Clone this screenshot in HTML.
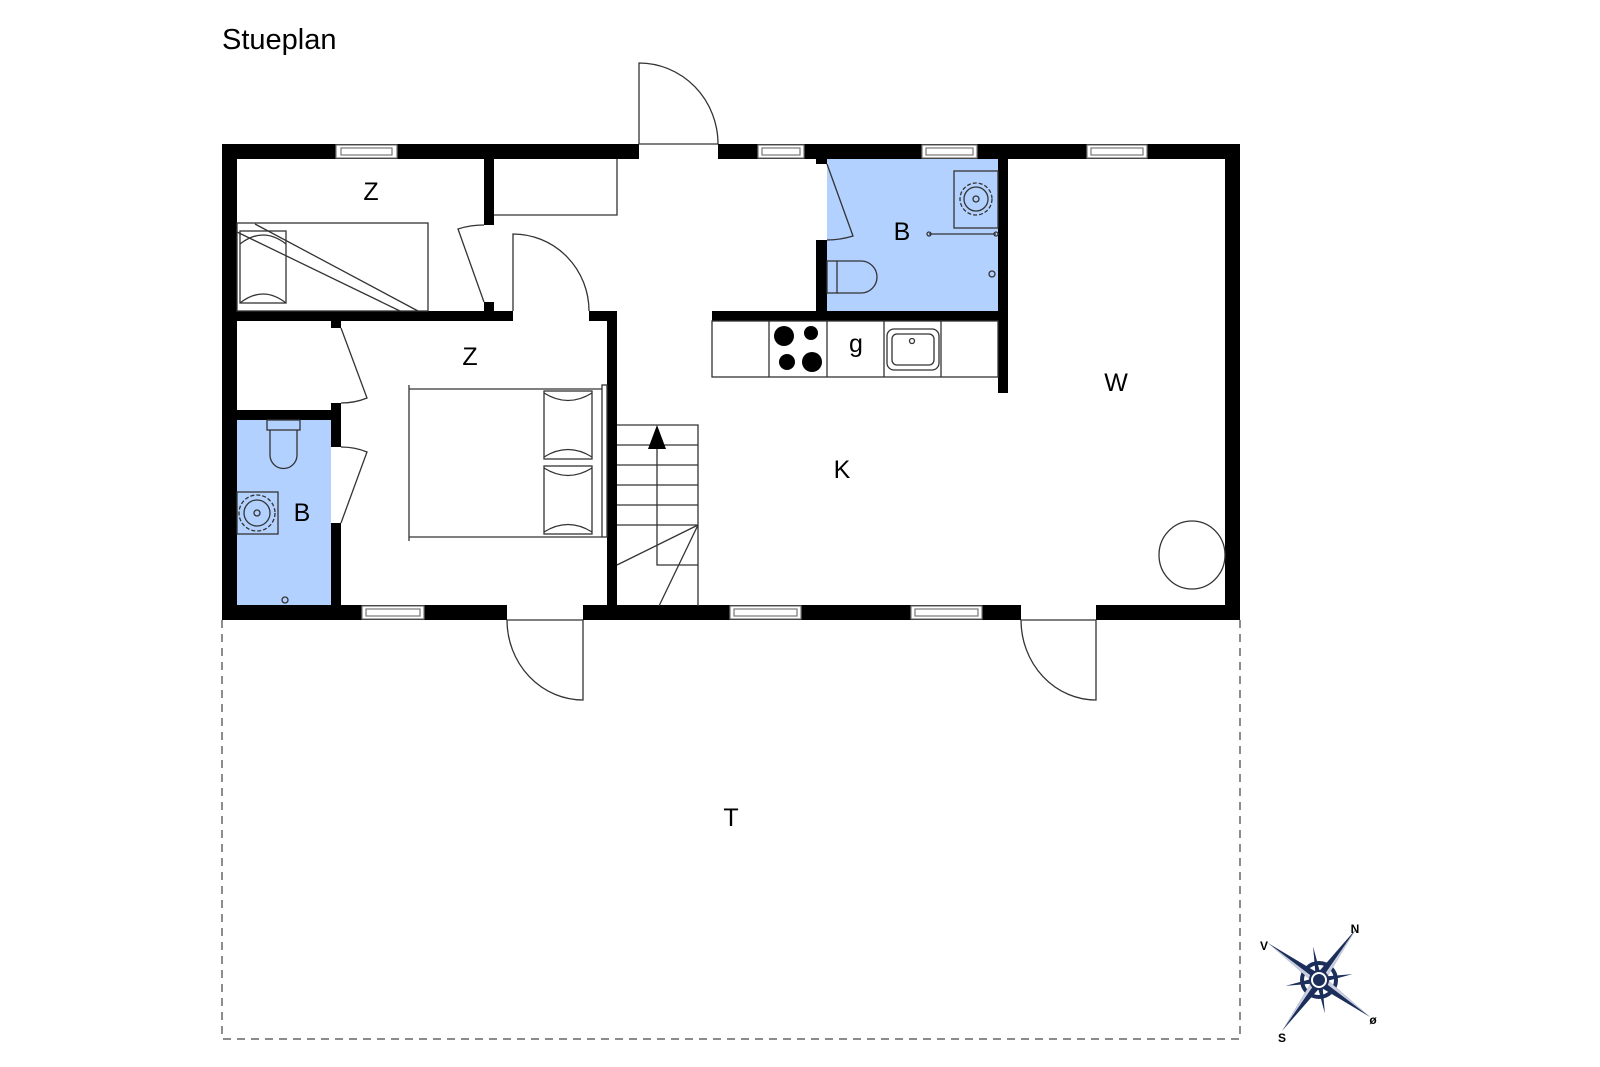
<!DOCTYPE html>
<html><head><meta charset="utf-8"><style>
html,body{margin:0;padding:0;background:#fff;}
svg{display:block;}
text{font-family:"Liberation Sans",sans-serif;fill:#000;}
</style></head><body>
<svg width="1600" height="1067" viewBox="0 0 1600 1067" xmlns="http://www.w3.org/2000/svg">
<text x="222" y="49" font-size="29">Stueplan</text>

<!-- terrace dashed -->
<path d="M222 620 V1039 H1240 V620" fill="none" stroke="#666" stroke-width="1.5" stroke-dasharray="8,6"/>

<!-- blue baths -->
<rect x="237" y="420" width="94" height="186" fill="#b3d1ff"/>
<rect x="827" y="159" width="171" height="152" fill="#b3d1ff"/>

<!-- walls -->
<g fill="#000">
<rect x="222" y="144" width="417" height="15"/>
<rect x="718" y="144" width="522" height="15"/>
<rect x="222" y="144" width="15" height="476"/>
<rect x="1225" y="144" width="15" height="476"/>
<rect x="222" y="605" width="285" height="15"/>
<rect x="583" y="605" width="438" height="15"/>
<rect x="1096" y="605" width="144" height="15"/>
<rect x="237" y="311" width="276" height="10"/>
<rect x="589" y="311" width="28" height="10"/>
<rect x="607" y="311" width="10" height="295"/>
<rect x="484" y="159" width="10" height="66"/>
<rect x="484" y="302" width="10" height="9"/>
<rect x="237" y="410" width="104" height="10"/>
<rect x="331" y="320" width="10" height="8"/>
<rect x="331" y="403" width="10" height="44"/>
<rect x="331" y="523" width="10" height="83"/>
<rect x="712" y="311" width="296" height="10"/>
<rect x="816" y="240" width="11" height="71"/>
<rect x="816" y="159" width="11" height="5"/>
<rect x="998" y="159" width="10" height="234"/>
</g>

<!-- windows -->
<g fill="#fff" stroke="#777" stroke-width="1.2">
<rect x="336" y="145" width="61" height="13"/><rect x="341" y="148" width="51" height="7"/>
<rect x="758" y="145" width="46" height="13"/><rect x="762" y="148" width="38" height="7"/>
<rect x="922" y="145" width="55" height="13"/><rect x="926" y="148" width="47" height="7"/>
<rect x="1087" y="145" width="60" height="13"/><rect x="1091" y="148" width="52" height="7"/>
<rect x="362" y="606" width="62" height="13"/><rect x="366" y="609" width="54" height="7"/>
<rect x="730" y="606" width="71" height="13"/><rect x="734" y="609" width="63" height="7"/>
<rect x="911" y="606" width="71" height="13"/><rect x="915" y="609" width="63" height="7"/>
</g>

<g fill="none" stroke="#333" stroke-width="1.3">
<path d="M639 144 H718"/>
<path d="M639 144 V63 A79 81 0 0 1 718 144"/>
<path d="M507 620 H583 M583 620 V700 A76 80 0 0 1 507 620"/>
<path d="M1021 620 H1096 M1096 620 V700 A75 80 0 0 1 1021 620"/>
<path d="M494 215 H617 V159"/>
<rect x="237" y="223" width="191" height="88"/>
<rect x="240" y="231" width="46" height="72"/>
<path d="M240 244 Q263 226 286 244 M240 303 Q263 285 286 303"/>
<path d="M255 224 L418 311 M237 232 L400 311"/>
<path d="M484 302 L458 229 Q470 225 484 225"/>
<path d="M513 311 V234 A76 77 0 0 1 589 311"/>
<path d="M341 328 L367 398 Q355 403 341 403"/>
<path d="M341 523 L367 452 Q355 447 341 447"/>
<path d="M409 385 V541 M409 389 H602 M409 537 H602"/>
<rect x="602" y="385" width="5" height="152"/>
<rect x="544" y="391" width="48" height="68"/>
<rect x="544" y="466" width="48" height="68"/>
<path d="M544 393 Q568 408 592 393 M544 457 Q568 442 592 457 M544 468 Q568 483 592 468 M544 532 Q568 517 592 532"/>
<rect x="267" y="420" width="33" height="10"/>
<path d="M270 430 V455 A13 13 0 0 0 297 455 V430"/>
<rect x="237" y="492" width="41" height="42"/>
<circle cx="257" cy="513" r="18" stroke-dasharray="4,2"/>
<circle cx="257" cy="513" r="13"/>
<circle cx="257" cy="513" r="3"/>
<circle cx="285" cy="600" r="3"/>
<path d="M827 164 L853 236 Q840 240 827 240"/>
<rect x="954" y="171" width="44" height="57"/>
<circle cx="976" cy="199" r="16" stroke-dasharray="4,2"/>
<circle cx="976" cy="199" r="12"/>
<circle cx="976" cy="199" r="3"/>
<path d="M929 234 H996"/>
<circle cx="929" cy="234" r="2"/><circle cx="996" cy="234" r="2"/>
<circle cx="992" cy="274" r="3"/>
<rect x="827" y="261" width="10" height="32"/>
<path d="M837 261 H861 A16 16 0 0 1 861 293 H837"/>
<rect x="712" y="321" width="286" height="56"/>
<path d="M769 321 V377 M827 321 V377 M884 321 V377 M941 321 V377"/>
<rect x="887" y="329" width="52" height="41" rx="7"/>
<rect x="892" y="334" width="42" height="31" rx="5"/>
<circle cx="912" cy="341" r="2.5"/>
<path d="M617 425 H698 V606 M617 445 H698 M617 465 H698 M617 485 H698 M617 505 H698 M617 525 H698"/>
<path d="M657 449 V565 H698"/>
<path d="M698 525 L617 565 M698 525 L659 606"/>
<ellipse cx="1192" cy="555" rx="33" ry="34"/>
</g>
<g fill="#000">
<polygon points="657,425 648,449 666,449"/>
<circle cx="784" cy="336" r="10"/><circle cx="811" cy="333" r="7"/>
<circle cx="787" cy="362" r="8"/><circle cx="812" cy="362" r="10"/>
</g>

<g font-size="25" text-anchor="middle">
<text x="371" y="200">Z</text>
<text x="470" y="365">Z</text>
<text x="302" y="521">B</text>
<text x="902" y="240">B</text>
<text x="856" y="352">g</text>
<text x="1116" y="391">W</text>
<text x="842" y="478">K</text>
<text x="731" y="826">T</text>
</g>

<g transform="translate(1319,980)">
<circle r="17" fill="none" stroke="#1c2e5a" stroke-width="4"/>
<g fill="#1c2e5a">
<polygon points="0,-34 3,0 0,34 -3,0" transform="rotate(-10)"/>
<polygon points="-34,0 0,3 34,0 0,-3" transform="rotate(-10)"/>
<polygon points="37,-51 4,4 -4,-4"/>
<polygon points="-37,51 -4,-4 4,4"/>
<polygon points="-51,-37 -4,4 4,-4"/>
<polygon points="51,37 4,-4 -4,4"/>
</g>
<g fill="#c9cfe0">
<polygon points="37,-51 4,4 1,1"/>
<polygon points="-37,51 -4,-4 -1,-1"/>
<polygon points="-51,-37 -4,4 -1,1"/>
<polygon points="51,37 4,-4 1,-1"/>
</g>
<circle r="9" fill="#fff" stroke="#1c2e5a" stroke-width="2"/>
<circle r="6" fill="#1c2e5a"/>
</g>
<g font-size="12" text-anchor="middle" font-weight="bold">
<text x="1355" y="933" fill="#222">N</text>
<text x="1264" y="950" fill="#222">V</text>
<text x="1282" y="1042" fill="#222">S</text>
<text x="1373" y="1024" fill="#222">ø</text>
</g>
</svg>
</body></html>
